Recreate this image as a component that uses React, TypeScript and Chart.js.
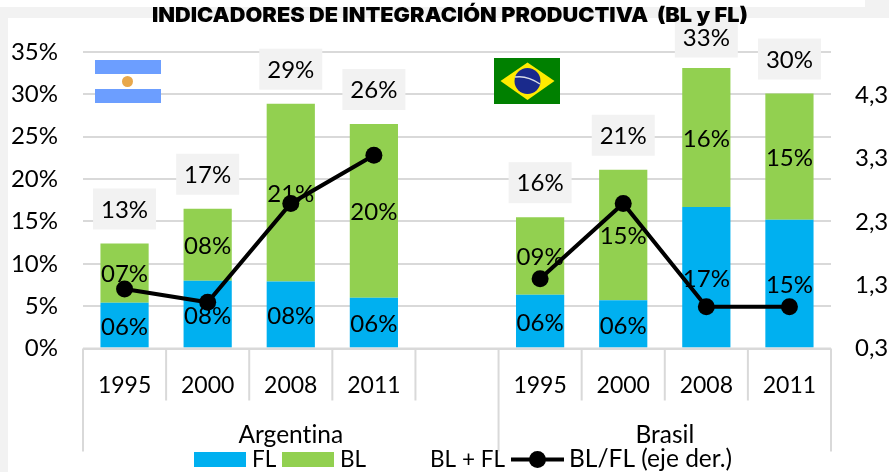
import React, { useEffect, useRef } from "react";
import { Chart, registerables } from "chart.js";

Chart.register(...registerables);

const categories = ["1995", "2000", "2008", "2011", "", "1995", "2000", "2008", "2011"];
const groups = ["Argentina", "Brasil"];
const flValues = [5.4, 8.0, 7.9, 6.0, null, 6.35, 5.7, 16.7, 15.2];
const blValues = [7.0, 8.5, 21.0, 20.5, null, 9.15, 15.4, 16.4, 14.9];
const totalValues = [12.4, 16.5, 28.9, 26.5, null, 15.5, 21.1, 33.1, 30.1];
const ratioValues = [1.24, 1.03, 2.59, 3.35, null, 1.4, 2.59, 0.96, 0.96];
const flLabels = ["06%", "08%", "08%", "06%", "", "06%", "06%", "17%", "15%"];
const blLabels = ["07%", "08%", "21%", "20%", "", "09%", "15%", "16%", "15%"];
const totalLabels = ["13%", "17%", "29%", "26%", "", "16%", "21%", "33%", "30%"];
const leftTicks = [0, 5, 10, 15, 20, 25, 30, 35];
const rightTicks = [0.3, 1.3, 2.3, 3.3, 4.3];

const FONT = "Lato, Carlito, sans-serif";
const NUM_SIZE = 24;
const YEAR_SIZE = 23;
const WORD_SIZE = 24.5;
const SHORT_LEGEND_SIZE = 22.5;
const BLUE = "#00B0F0";
const GREEN = "#92D050";
const GRID = "#D9D9D9";
const PANEL = "#F2F2F2";
const TITLE = "INDICADORES DE INTEGRACIÓN PRODUCTIVA  (BL y FL)";

const overlay = {
  id: "overlay",
  afterDatasetsDraw(chart: any) {
    const { ctx } = chart;
    const x = chart.scales.x;
    const y = chart.scales.y;
    const slot = x.getPixelForValue(1) - x.getPixelForValue(0);
    const base = y.getPixelForValue(0);
    ctx.save();

    // Axis base line and category separators
    ctx.strokeStyle = GRID;
    ctx.lineWidth = 2;
    ctx.beginPath();
    ctx.moveTo(x.left, base);
    ctx.lineTo(x.right, base);
    for (let i = 0; i <= categories.length; i++) {
      const px = x.left + slot * i;
      const long = i === 0 || i === 5 || i === 9;
      ctx.moveTo(px, base);
      ctx.lineTo(px, base + (long ? 103 : 52));
    }
    ctx.stroke();

    ctx.letterSpacing = "0.01px";
    ctx.font = `${WORD_SIZE}px ${FONT}`;
    ctx.textAlign = "center";
    ctx.textBaseline = "middle";
    ctx.fillStyle = "#000";

    // Group labels under the years
    ctx.fillText(groups[0], (x.left + x.left + slot * 5) / 2, 435);
    ctx.fillText(groups[1], (x.left + slot * 5 + x.right) / 2, 435);

    // Segment labels
    ctx.font = `${NUM_SIZE}px ${FONT}`;
    const metaFl = chart.getDatasetMeta(0);
    const metaBl = chart.getDatasetMeta(1);
    const metaTotal = chart.getDatasetMeta(2);
    categories.forEach((c, i) => {
      if (!c) return;
      const cx = x.getPixelForValue(i);
      const flTop = metaFl.data[i].y;
      const blTop = metaBl.data[i].y;
      ctx.fillStyle = "#000";
      ctx.fillText(flLabels[i], cx, (flTop + base) / 2 + 1.5);
      ctx.fillText(blLabels[i], cx, (blTop + flTop) / 2 + 1.5);
      const cy = Math.max(metaTotal.data[i].y - 34.5, 37);
      ctx.fillStyle = PANEL;
      ctx.fillRect(cx - 31.5, cy - 20.5, 63, 41);
      ctx.fillStyle = "#000";
      ctx.fillText(totalLabels[i], cx, cy + 1);
    });

    // Legend
    const ly = 459.5;
    ctx.fillStyle = BLUE;
    ctx.fillRect(194, 452, 52, 15);
    ctx.fillStyle = GREEN;
    ctx.fillRect(282, 452, 52, 15);
    ctx.fillStyle = "#000";
    ctx.textAlign = "left";
    ctx.font = `${SHORT_LEGEND_SIZE}px ${FONT}`;
    ctx.fillText(chart.data.datasets[0].label, 252, ly);
    ctx.fillText(chart.data.datasets[1].label, 340, ly);
    ctx.fillText(chart.data.datasets[2].label, 430, ly);
    ctx.font = `${WORD_SIZE}px ${FONT}`;
    ctx.fillText(chart.data.datasets[3].label, 569, ly);
    ctx.strokeStyle = "#000";
    ctx.lineWidth = 4;
    ctx.beginPath();
    ctx.moveTo(511, 459.5);
    ctx.lineTo(564, 459.5);
    ctx.stroke();
    ctx.beginPath();
    ctx.arc(537.5, 459.5, 8.5, 0, Math.PI * 2);
    ctx.fill();

    // Title, stretched to the reference's wide face
    ctx.save();
    ctx.textAlign = "center";
    ctx.font = `900 20px Inter, sans-serif`;
    ctx.letterSpacing = "0px";
    const w = ctx.measureText(TITLE).width;
    ctx.translate(450, 15.5);
    ctx.scale(596 / w, 1);
    ctx.fillText(TITLE, 0, 0);
    ctx.restore();

    // Argentina flag
    ctx.fillStyle = "#6C9EFF";
    ctx.fillRect(95, 60, 66, 43);
    ctx.fillStyle = "#FFFFFF";
    ctx.fillRect(95, 74, 66, 15);
    ctx.fillStyle = "#E8A84C";
    ctx.beginPath();
    ctx.arc(127.5, 81.5, 5.5, 0, Math.PI * 2);
    ctx.fill();

    // Brazil flag
    ctx.fillStyle = "#008000";
    ctx.fillRect(494, 58, 66, 46);
    ctx.fillStyle = "#FFEB00";
    ctx.beginPath();
    ctx.moveTo(500.5, 81);
    ctx.lineTo(527.5, 62.5);
    ctx.lineTo(554.5, 81);
    ctx.lineTo(527.5, 100);
    ctx.closePath();
    ctx.fill();
    ctx.fillStyle = "#1A2A8C";
    ctx.beginPath();
    ctx.arc(527.5, 81, 13, 0, Math.PI * 2);
    ctx.fill();
    ctx.strokeStyle = "#D8DCE8";
    ctx.lineWidth = 1.5;
    ctx.beginPath();
    ctx.moveTo(515, 77);
    ctx.quadraticCurveTo(527, 75, 540, 84);
    ctx.stroke();

    ctx.restore();
  },
};

export default function App() {
  const ref = useRef<HTMLCanvasElement>(null);

  useEffect(() => {
    const chart = new Chart(ref.current as HTMLCanvasElement, {
      type: "bar",
      plugins: [overlay],
      data: {
        labels: categories,
        datasets: [
          { type: "bar", label: "FL", data: flValues, backgroundColor: BLUE, yAxisID: "y", order: 2, barPercentage: 0.58, categoryPercentage: 1 },
          { type: "bar", label: "BL", data: blValues, backgroundColor: GREEN, yAxisID: "y", order: 3, barPercentage: 0.58, categoryPercentage: 1 },
          { type: "line", label: "BL + FL", data: totalValues, showLine: false, pointRadius: 0, yAxisID: "y", order: 1 },
          { type: "line", label: "BL/FL (eje der.)", data: ratioValues, borderColor: "#000", backgroundColor: "#000", borderWidth: 4, pointRadius: 8.5, pointBackgroundColor: "#000", pointBorderWidth: 0, spanGaps: false, tension: 0, yAxisID: "y1", order: 0 },
        ],
      } as any,
      options: {
        animation: false,
        responsive: false,
        layout: { padding: { top: 52, left: 0, right: 0, bottom: 0 } },
        plugins: { legend: { display: false }, tooltip: { enabled: false }, title: { display: false } },
        scales: {
          x: {
            stacked: true,
            grid: { display: false },
            border: { display: false },
            ticks: { padding: 15, color: "#000", font: { family: FONT, size: YEAR_SIZE }, autoSkip: false, maxRotation: 0 },
            afterFit(s: any) { s.height = 123.5; },
          },
          y: {
            stacked: true,
            position: "left",
            min: 0,
            max: 35,
            grid: { color: GRID, lineWidth: 2, drawTicks: false },
            border: { display: false },
            ticks: { padding: 25, color: "#000", font: { family: FONT, size: NUM_SIZE }, callback: (v: any) => `${v}%` },
            afterBuildTicks(s: any) { s.ticks = leftTicks.map((value) => ({ value })); },
            afterFit(s: any) { s.width = 83; },
          },
          y1: {
            position: "right",
            min: 0.3,
            max: 4.98,
            grid: { display: false, drawTicks: false },
            border: { display: false },
            ticks: { padding: 24, color: "#000", font: { family: FONT, size: NUM_SIZE }, callback: (v: any) => Number(v).toFixed(1).replace(".", ",") },
            afterBuildTicks(s: any) { s.ticks = rightTicks.map((value) => ({ value })); },
            afterFit(s: any) { s.width = 58; },
          },
        },
      } as any,
    });
    return () => chart.destroy();
  }, []);

  const band = (style: React.CSSProperties) => <div style={{ position: "absolute", background: PANEL, ...style }} />;

  return (
    <div style={{ position: "fixed", left: 0, top: 0, width: 889, height: 472, background: "#fff", overflow: "hidden" }}>
      {band({ left: 0, top: 7, width: 889, height: 11 })}
      {band({ left: 0, top: 7, width: 8, height: 465 })}
      {band({ left: 865, top: 0, width: 24, height: 18 })}
      <canvas ref={ref} width={889} height={472} style={{ position: "absolute", left: 0, top: 0, width: 889, height: 472 }} />
    </div>
  );
}
